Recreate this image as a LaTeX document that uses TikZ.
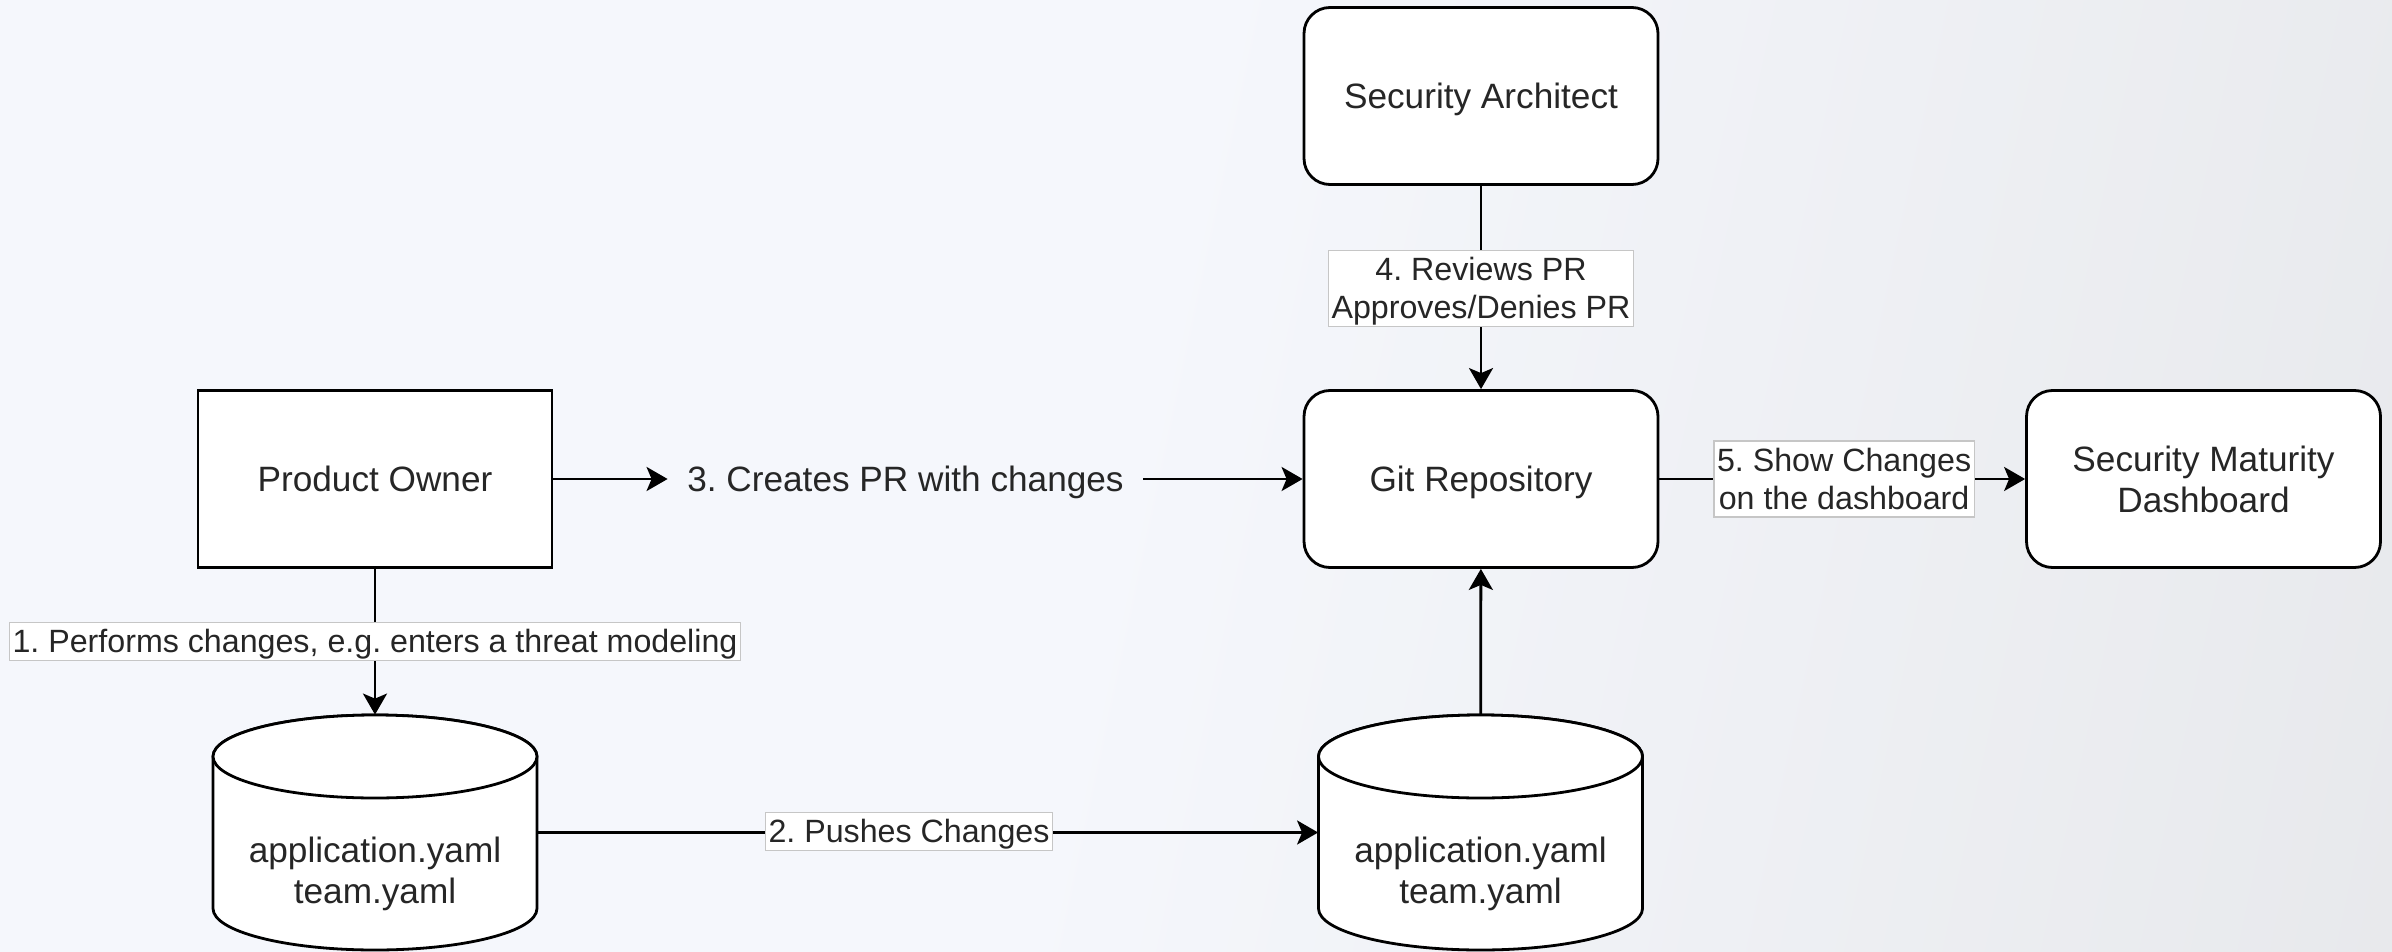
\documentclass[tikz,border=0pt]{standalone}
\usepackage{fontspec}
\setmainfont{Liberation Sans}
\frenchspacing
\usetikzlibrary{arrows.meta,shapes.geometric}
\definecolor{bgA}{HTML}{F5F7FC}
\definecolor{bgB}{HTML}{DFE0E2}
\definecolor{txt}{HTML}{262626}
\newcommand{\nodefont}{\fontsize{17.6pt}{20.5pt}\selectfont}
\newcommand{\lblfont}{\fontsize{16.1pt}{19pt}\selectfont}
\newcommand{\lstrut}{\rule{0pt}{15pt}\rule[-4pt]{0pt}{4pt}}
\pgfdeclarehorizontalshading{bgshade}{100bp}{color(0bp)=(bgA); color(48bp)=(bgA); color(100bp)=(bgB)}
\newcommand{\drawcyl}[1]{%
  \filldraw[cyl] (#1-162,-756.5) -- (#1-162,-908.5)
    arc[start angle=180,end angle=360,x radius=162,y radius=41.5]
    -- (#1+162,-756.5)
    arc[start angle=0,end angle=180,x radius=162,y radius=41.5] -- cycle;
  \draw[cyl] (#1,-756.5) ellipse[x radius=162, y radius=41.5];}
\begin{document}
\begin{tikzpicture}[x=0.5pt,y=0.5pt,
  box/.style={draw=black, line width=1.4pt, fill=white, minimum width=177pt,
    minimum height=88.5pt, inner sep=0pt, font=\nodefont, text=txt, align=center},
  rbox/.style={box, rounded corners=13pt},
  oneline/.style={text depth=0pt},
  lbl/.style={draw=gray!45, line width=0.6pt, fill=white, inner xsep=1.5pt,
    inner ysep=0pt, font=\lblfont, text=txt, align=center},
  conn/.style={line width=1.4pt, -{Stealth[length=10.5pt,width=12pt,inset=2.5pt]}},
  cyl/.style={draw=black, line width=1.4pt, fill=white},
  cylarea/.style={inner sep=0pt, minimum width=162pt, minimum height=117.5pt},
  plaintext/.style={font=\nodefont, text=txt, align=center, inner sep=0pt}
]
\useasboundingbox (0,0) rectangle (2392,-952);
\shade[shading=bgshade, shading angle=-12] (0,0) rectangle (2392,-952);

% cylinders
\drawcyl{375}
\drawcyl{1480.5}
\node[cylarea] (lc) at (375,-832.5) {};
\node[cylarea] (rc) at (1480.5,-832.5) {};
\node[plaintext] (lct) at (375,-873.5) {application.yaml\\team.yaml};
\node[plaintext] (rct) at (1480.5,-873.5) {application.yaml\\team.yaml};

% boxes
\node[rbox, oneline] (sa) at (1481,-96) {Security Architect};
\node[rbox, oneline] (git) at (1481,-479) {Git Repository};
\node[box, oneline] (po) at (375,-479) {Product Owner};
\node[rbox] (dash) at (2203.5,-479) {Security Maturity\\Dashboard};
\node[plaintext, oneline, minimum width=237.5pt, minimum height=20pt] (t3) at (905.5,-479) {3. Creates PR with changes};

% connectors
\draw[conn] (po) -- (lc) node[lbl, pos=0.5] {\lstrut 1. Performs changes, e.g. enters a threat modeling};
\draw[conn] (lc) -- (rc) node[lbl, pos=0.476, yshift=0.5pt] {\lstrut 2. Pushes Changes};
\draw[conn] (po) -- (t3);
\draw[conn] (t3) -- (git);
\draw[conn] (sa) -- (git) node[lbl, pos=0.5, yshift=-0.5pt] {\lstrut 4. Reviews PR\\\lstrut Approves/Denies PR};
\draw[conn] (git) -- (dash) node[lbl, pos=0.505] {\lstrut 5. Show Changes\\\lstrut on the dashboard};
\draw[conn] (rc) -- (git);
\end{tikzpicture}
\end{document}
